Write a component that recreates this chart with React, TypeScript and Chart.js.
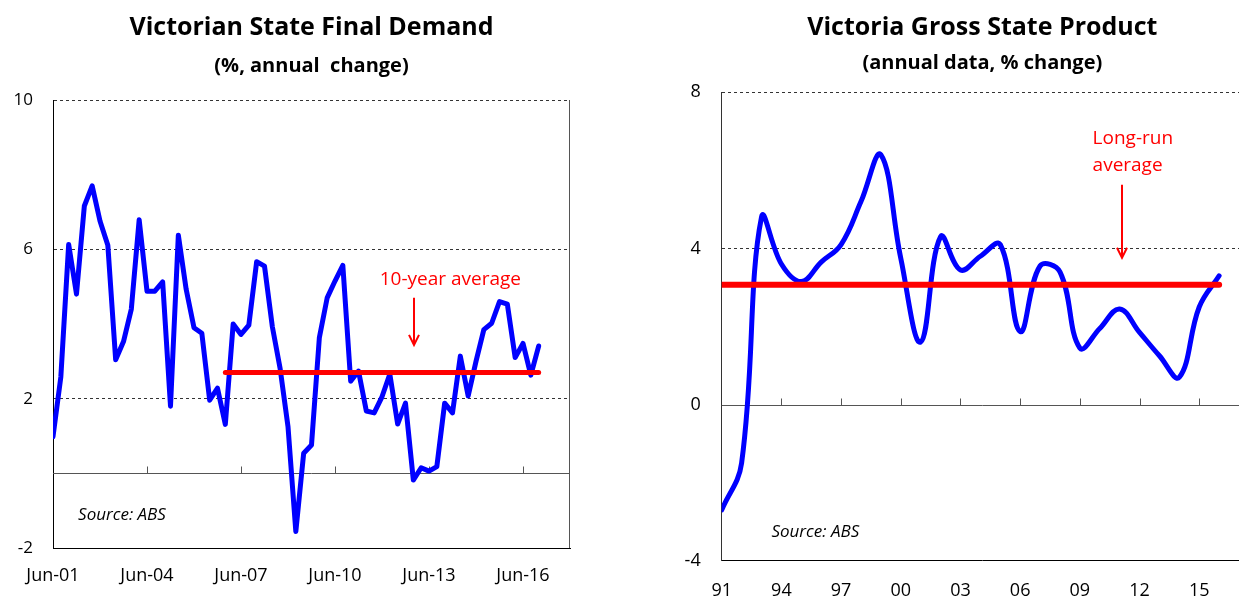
import React, { useEffect, useRef } from 'react';
import { Chart, registerables } from 'chart.js';

Chart.register(...registerables);

const FONT = '"Open Sans", Lato, "DejaVu Sans", sans-serif';

// ---------- Left chart: Victorian State Final Demand (quarterly, % annual change) ----------
const sfdTickQuarters = [0, 12, 24, 36, 48, 60];
const sfdTickLabels = ['Jun-01', 'Jun-04', 'Jun-07', 'Jun-10', 'Jun-13', 'Jun-16'];
const sfdYTicks = [-2, 2, 6, 10];
const sfdValues = [
  0.98, 2.58, 6.13, 4.8, 7.16, 7.7, 6.76, 6.11, 3.04, 3.53,
  4.4, 6.79, 4.88, 4.88, 5.13, 1.8, 6.38, 4.93, 3.9, 3.75,
  1.96, 2.28, 1.31, 4.0, 3.72, 3.97, 5.67, 5.55, 3.93, 2.8,
  1.25, -1.56, 0.54, 0.76, 3.63, 4.7, 5.15, 5.57, 2.47, 2.74,
  1.67, 1.62, 2.05, 2.66, 1.32, 1.88, -0.18, 0.15, 0.06, 0.18,
  1.88, 1.62, 3.14, 2.07, 3.0, 3.85, 4.02, 4.6, 4.53, 3.1,
  3.48, 2.63, 3.41,
];
const sfdAverage = 2.7;
const sfdAverageStart = 22;
const sfdAverageEnd = 62;

// ---------- Right chart: Victoria Gross State Product (annual, % change) ----------
const gspYears = [
  1991, 1992, 1993, 1994, 1995, 1996, 1997, 1998, 1999, 2000,
  2001, 2002, 2003, 2004, 2005, 2006, 2007, 2008, 2009, 2010,
  2011, 2012, 2013, 2014, 2015, 2016,
];
const gspValues = [
  -2.7, -1.5, 4.8, 3.6, 3.15, 3.65, 4.1, 5.2, 6.4, 3.75,
  1.6, 4.3, 3.45, 3.8, 4.1, 1.87, 3.55, 3.4, 1.45, 1.95,
  2.45, 1.85, 1.25, 0.7, 2.5, 3.3,
];
const gspAverage = 3.07;
const gspTickYears = [1991, 1994, 1997, 2000, 2003, 2006, 2009, 2012, 2015];
const gspYTicks = [-4, 0, 4, 8];

type Note = { lines: string[]; x: number; y: number; size: number; italic?: boolean; color: string; gap?: number };
type Arrow = { x: number; y1: number; y2: number };

function makeOverlay(id: string, cfg: { zeroTicks: number[]; rightBorder: boolean; notes: Note[]; arrows: Arrow[] }) {
  return {
    id,
    beforeDatasetsDraw(chart: any) {
      const { ctx, chartArea, scales } = chart;
      const xs = scales.x;
      const ys = scales.y;
      const y0 = Math.round(ys.getPixelForValue(0)) + 0.5;
      ctx.save();
      ctx.strokeStyle = '#555';
      ctx.lineWidth = 1;
      ctx.setLineDash([]);
      ctx.beginPath();
      ctx.moveTo(chartArea.left, y0);
      ctx.lineTo(chartArea.right, y0);
      for (const v of cfg.zeroTicks) {
        const px = Math.round(xs.getPixelForValue(v)) + 0.5;
        ctx.moveTo(px, y0);
        ctx.lineTo(px, y0 - 7);
      }
      if (cfg.rightBorder) {
        const px = Math.round(chartArea.right) - 0.5;
        ctx.moveTo(px, chartArea.top);
        ctx.lineTo(px, chartArea.bottom);
      }
      ctx.stroke();
      ctx.restore();
    },
    afterDatasetsDraw(chart: any) {
      const { ctx, scales } = chart;
      const xs = scales.x;
      const ys = scales.y;
      ctx.save();
      for (const n of cfg.notes) {
        ctx.font = `${n.italic ? 'italic ' : ''}${n.size}px ${FONT}`;
        ctx.fillStyle = n.color;
        ctx.textAlign = 'left';
        ctx.textBaseline = 'alphabetic';
        const px = xs.getPixelForValue(n.x);
        const py = ys.getPixelForValue(n.y);
        n.lines.forEach((line, i) => ctx.fillText(line, px, py + i * (n.gap || 0)));
      }
      ctx.strokeStyle = '#ff0000';
      ctx.lineWidth = 2;
      for (const a of cfg.arrows) {
        const px = Math.round(xs.getPixelForValue(a.x));
        const p1 = ys.getPixelForValue(a.y1);
        const p2 = ys.getPixelForValue(a.y2);
        ctx.beginPath();
        ctx.moveTo(px, p1);
        ctx.lineTo(px, p2 - 1);
        ctx.moveTo(px - 5, p2 - 10);
        ctx.lineTo(px, p2);
        ctx.lineTo(px + 5, p2 - 10);
        ctx.stroke();
      }
      ctx.restore();
    },
  };
}

function gridColor(minVal: number) {
  return (c: any) => {
    if (!c.tick) return 'rgba(0,0,0,0)';
    if (c.tick.value === minVal || c.tick.value === 0) return 'rgba(0,0,0,0)';
    return '#333';
  };
}

function LeftChart() {
  const ref = useRef<HTMLCanvasElement | null>(null);
  useEffect(() => {
    if (!ref.current) return;
    const chart = new Chart(ref.current, {
      type: 'line',
      data: {
        datasets: [
          {
            label: '10-year average',
            data: [
              { x: sfdAverageStart, y: sfdAverage },
              { x: sfdAverageEnd, y: sfdAverage },
            ],
            borderColor: '#ff0000',
            borderWidth: 5,
            borderCapStyle: 'round',
            pointRadius: 0,
            order: 0,
          },
          {
            label: 'State final demand',
            data: sfdValues.map((v, i) => ({ x: i, y: v })),
            borderColor: '#0000ff',
            borderWidth: 5,
            borderJoinStyle: 'round',
            borderCapStyle: 'round',
            pointRadius: 0,
            tension: 0,
            order: 1,
          },
        ],
      } as any,
      options: {
        responsive: false,
        animation: false,
        layout: { padding: { left: 0, right: 30, top: 0, bottom: 0 } },
        plugins: {
          legend: { display: false },
          tooltip: { enabled: false },
          title: {
            display: true,
            text: 'Victorian State Final Demand',
            fullSize: false,
            color: '#000',
            font: { family: FONT, size: 25, weight: 'bold' },
            padding: { top: 12.6, bottom: 11.6 },
          },
          subtitle: {
            display: true,
            text: '(%, annual  change)',
            fullSize: false,
            color: '#000',
            font: { family: FONT, size: 20, weight: 'bold' },
            padding: { top: 0, bottom: 21.8 },
          },
        },
        scales: {
          x: {
            type: 'linear',
            min: 0,
            max: 66,
            afterBuildTicks: (s: any) => {
              s.ticks = sfdTickQuarters.map((v) => ({ value: v }));
            },
            afterFit: (s: any) => {
              s.height = 51;
            },
            grid: { display: false, drawTicks: false },
            border: { display: true, color: '#000', width: 1 },
            ticks: {
              autoSkip: false,
              maxRotation: 0,
              padding: 16.9,
              color: '#000',
              font: { family: FONT, size: 18 },
              callback: (v: any) => {
                const i = sfdTickQuarters.indexOf(Number(v));
                return i >= 0 ? sfdTickLabels[i] : '';
              },
            },
          },
          y: {
            type: 'linear',
            min: -2,
            max: 10,
            afterBuildTicks: (s: any) => {
              s.ticks = sfdYTicks.map((v) => ({ value: v }));
            },
            afterFit: (s: any) => {
              s.width = 53;
            },
            grid: { color: gridColor(-2), lineWidth: 1, drawTicks: false },
            border: { display: true, color: '#000', width: 1, dash: [3, 3] },
            ticks: {
              padding: 20,
              color: '#000',
              font: { family: FONT, size: 17 },
            },
          },
        },
      } as any,
      plugins: [
        makeOverlay('sfdOverlay', {
          zeroTicks: sfdTickQuarters.slice(1),
          rightBorder: true,
          notes: [
            { lines: ['10-year average'], x: 41.7, y: 5.04, size: 19, color: '#ff0000' },
            { lines: ['Source: ABS'], x: 3.2, y: -1.25, size: 17, italic: true, color: '#000' },
          ],
          arrows: [{ x: 46.1, y1: 4.7, y2: 3.44 }],
        }),
      ],
    });
    return () => chart.destroy();
  }, []);
  return <canvas ref={ref} width={600} height={599} />;
}

function RightChart() {
  const ref = useRef<HTMLCanvasElement | null>(null);
  useEffect(() => {
    if (!ref.current) return;
    const chart = new Chart(ref.current, {
      type: 'line',
      data: {
        datasets: [
          {
            label: 'Long-run average',
            data: [
              { x: gspYears[0], y: gspAverage },
              { x: gspYears[gspYears.length - 1], y: gspAverage },
            ],
            borderColor: '#ff0000',
            borderWidth: 6,
            borderCapStyle: 'round',
            pointRadius: 0,
            order: 0,
          },
          {
            label: 'Gross state product',
            data: gspValues.map((v, i) => ({ x: gspYears[i], y: v })),
            borderColor: '#0000ff',
            borderWidth: 5,
            borderJoinStyle: 'round',
            borderCapStyle: 'round',
            pointRadius: 0,
            tension: 0.4,
            order: 1,
          },
        ],
      } as any,
      options: {
        responsive: false,
        animation: false,
        layout: { padding: { left: 0, right: 17, top: 0, bottom: 0 } },
        plugins: {
          legend: { display: false },
          tooltip: { enabled: false },
          title: {
            display: true,
            text: 'Victoria Gross State Product',
            fullSize: false,
            color: '#000',
            font: { family: FONT, size: 25, weight: 'bold' },
            padding: { top: 12.6, bottom: 8.6 },
          },
          subtitle: {
            display: true,
            text: '(annual data, % change)',
            fullSize: false,
            color: '#000',
            font: { family: FONT, size: 20, weight: 'bold' },
            padding: { top: 0, bottom: 17.1 },
          },
        },
        scales: {
          x: {
            type: 'linear',
            min: 1991,
            max: 2017.2,
            afterBuildTicks: (s: any) => {
              s.ticks = gspTickYears.map((v) => ({ value: v }));
            },
            afterFit: (s: any) => {
              s.height = 38.3;
            },
            grid: { display: false, drawTicks: false },
            border: { display: true, color: '#000', width: 1 },
            ticks: {
              autoSkip: false,
              maxRotation: 0,
              padding: 19.4,
              color: '#000',
              font: { family: FONT, size: 18 },
              callback: (v: any) => String(v).slice(2),
            },
          },
          y: {
            type: 'linear',
            min: -4,
            max: 8,
            afterBuildTicks: (s: any) => {
              s.ticks = gspYTicks.map((v) => ({ value: v }));
            },
            afterFit: (s: any) => {
              s.width = 81.7;
            },
            grid: { color: gridColor(-4), lineWidth: 1, drawTicks: false },
            border: { display: true, color: '#333', width: 1, dash: [3, 3] },
            ticks: {
              padding: 21,
              color: '#000',
              font: { family: FONT, size: 18 },
            },
          },
        },
      } as any,
      plugins: [
        makeOverlay('gspOverlay', {
          zeroTicks: gspTickYears.slice(1),
          rightBorder: false,
          notes: [
            { lines: ['Long-run', 'average'], x: 2009.64, y: 6.68, size: 19, color: '#ff0000', gap: 27 },
            { lines: ['Source: ABS'], x: 1993.5, y: -3.39, size: 17, italic: true, color: '#000' },
          ],
          arrows: [{ x: 2011.13, y1: 5.63, y2: 3.76 }],
        }),
      ],
    });
    return () => chart.destroy();
  }, []);
  return <canvas ref={ref} width={620} height={599} />;
}

export default function App() {
  return (
    <div
      style={{
        position: 'absolute',
        left: 0,
        top: 0,
        width: 1239,
        height: 599,
        overflow: 'hidden',
        background: '#fff',
      }}
    >
      <div style={{ position: 'absolute', left: 0, top: 0, width: 600, height: 599 }}>
        <LeftChart />
      </div>
      <div style={{ position: 'absolute', left: 640, top: 0, width: 620, height: 599 }}>
        <RightChart />
      </div>
    </div>
  );
}
